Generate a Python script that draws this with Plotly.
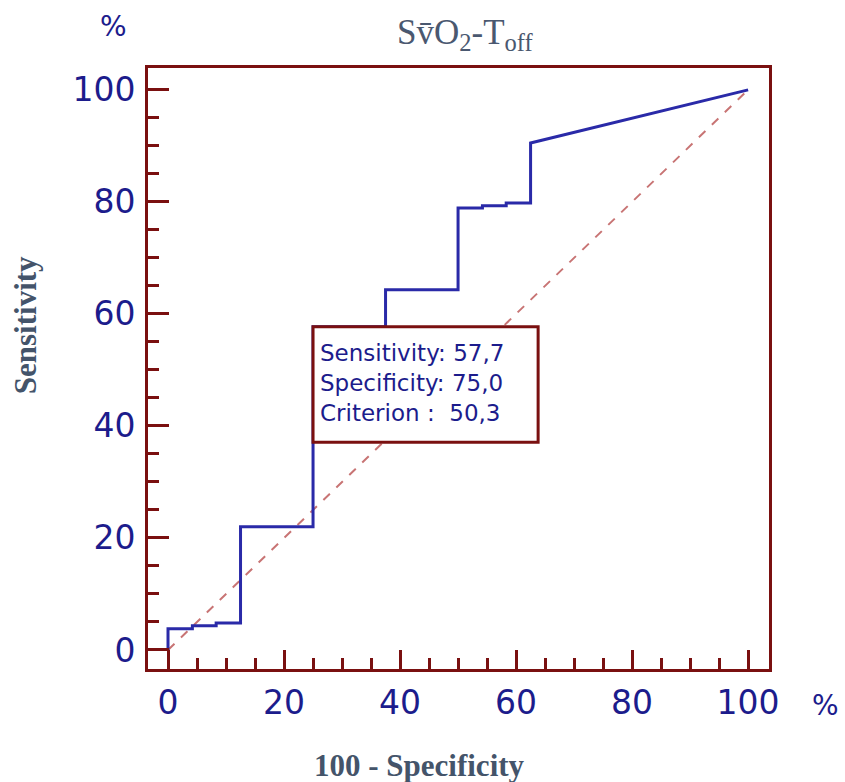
import plotly.graph_objects as go

# ROC curve points (100 - Specificity, Sensitivity)
fpr = [0, 0, 4.2, 4.2, 8.3, 8.3, 12.5, 12.5, 25, 25, 37.5, 37.5, 50, 50, 54.2, 54.2, 58.3, 58.3, 62.5, 62.5, 100]
tpr = [0, 3.8, 3.8, 4.3, 4.3, 4.8, 4.8, 22.0, 22.0, 57.7, 57.7, 64.3, 64.3, 78.9, 78.9, 79.3, 79.3, 79.8, 79.8, 90.5, 100]
diag_x = [0, 100]
diag_y = [0, 100]
tick_vals = [0, 20, 40, 60, 80, 100]
tick_text = ["0", "20", "40", "60", "80", "100"]
crit_sens = "57,7"
crit_spec = "75,0"
crit_val = "50,3"

RED = "#7a1010"
BLUE = "#2a2aa8"
NAVY = "#1c1c8c"
SLATE = "#44546a"

fig = go.Figure()
fig.add_trace(go.Scatter(x=diag_x, y=diag_y, mode="lines",
                         line=dict(color="#c87474", width=2, dash="dash"),
                         hoverinfo="skip", showlegend=False))
fig.add_trace(go.Scatter(x=fpr, y=tpr, mode="lines",
                         line=dict(color=BLUE, width=3),
                         showlegend=False))

axis_common = dict(
    showgrid=False, zeroline=False,
    showline=True, linecolor=RED, linewidth=3, mirror=True,
    ticks="inside", tickcolor=RED, tickwidth=3,
    tickvals=tick_vals, ticktext=tick_text,
    tickfont=dict(family="DejaVu Sans, Arial", size=33, color=NAVY),
    minor=dict(dtick=5, tick0=0, ticks="inside", ticklen=11, tickwidth=3, tickcolor=RED),
)

fig.update_layout(
    width=845, height=782,
    margin=dict(l=148, r=76, t=68, b=113),
    paper_bgcolor="white", plot_bgcolor="white",
    xaxis=dict(range=[-3.45, 103.6], ticklen=19, ticklabelstandoff=2, **axis_common),
    yaxis=dict(range=[-3.4, 103.9], ticklen=21, ticklabelstandoff=3, **axis_common),
)

# Criterion box (anchored at the criterion point: x = 100 - 75, y = 57.7)
fig.add_shape(type="rect", xref="x", yref="y", x0=25, x1=63.8, y0=37.1, y1=57.7,
              line=dict(color=RED, width=3), fillcolor="white", layer="above")
fig.add_annotation(xref="x", yref="y", x=25.8, y=47.6, xanchor="left", yanchor="middle",
                   text=f"Sensitivity: {crit_sens}<br>Specificity: {crit_spec}<br>Criterion :  {crit_val}",
                   align="left", showarrow=False,
                   font=dict(family="DejaVu Sans, Arial", size=23, color=NAVY))

# Title and axis labels
fig.add_annotation(xref="paper", yref="paper", x=0.512, y=1.0, yshift=34, xanchor="center", yanchor="middle",
                   text="Sv\u0304O<sub>2</sub>-T<sub>off</sub>", showarrow=False,
                   font=dict(family="Liberation Serif, Times New Roman", size=35, color="#4a5870"))
fig.add_annotation(xref="paper", yref="paper", x=0, xshift=-35, y=1.0, yshift=42, xanchor="center", yanchor="middle",
                   text="%", showarrow=False,
                   font=dict(family="DejaVu Sans, Arial", size=28, color=NAVY))
fig.add_annotation(xref="paper", yref="paper", x=1.0, xshift=56, y=0, yshift=-36, xanchor="center", yanchor="middle",
                   text="%", showarrow=False,
                   font=dict(family="DejaVu Sans, Arial", size=28, color=NAVY))
fig.add_annotation(xref="paper", yref="paper", x=0, xshift=-123, y=0.572, xanchor="center", yanchor="middle",
                   text="<b>Sensitivity</b>", textangle=-90, showarrow=False,
                   font=dict(family="Liberation Serif, Times New Roman", size=31, color=SLATE))
fig.add_annotation(xref="paper", yref="paper", x=0.438, y=0, yshift=-96, xanchor="center", yanchor="middle",
                   text="<b>100 - Specificity</b>", showarrow=False,
                   font=dict(family="Liberation Serif, Times New Roman", size=31, color=SLATE))

fig.write_html("out.html")
